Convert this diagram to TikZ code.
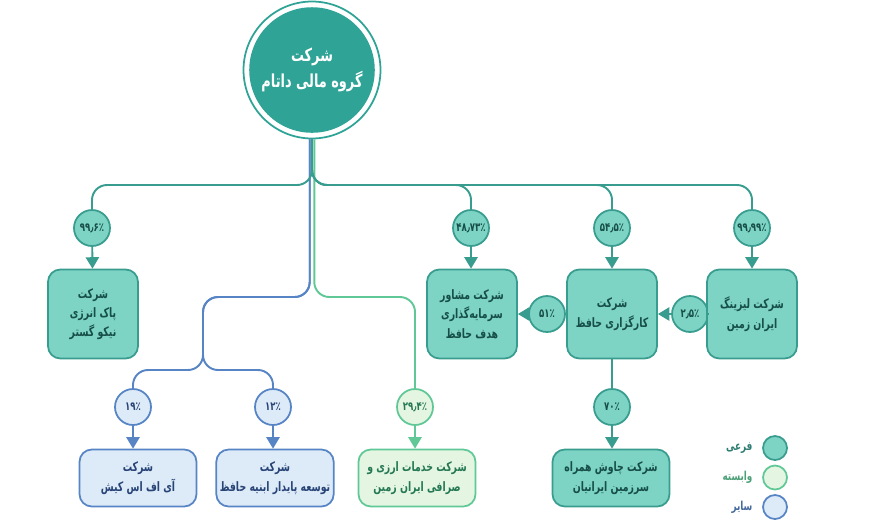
\documentclass[tikz,border=0pt]{standalone}
\usepackage{fontspec}
\newfontfamily\arabicfont[Script=Arabic,FakeStretch=0.72]{DejaVu Sans}
\TeXXeTstate=1
\usetikzlibrary{arrows.meta,positioning}
\definecolor{deepteal}{RGB}{47,163,150}
\definecolor{tealline}{RGB}{56,156,143}
\definecolor{tealfill}{RGB}{125,211,196}
\definecolor{tealtext}{RGB}{22,78,72}
\definecolor{blueline}{RGB}{86,132,196}
\definecolor{bluefill}{RGB}{221,234,248}
\definecolor{bluetext}{RGB}{40,68,118}
\definecolor{greenline}{RGB}{96,200,150}
\definecolor{greenfill}{RGB}{228,245,226}
\definecolor{greentext}{RGB}{36,120,84}
\newcommand{\rtl}[1]{\beginR #1\endR}
\tikzset{
  >={Triangle[width=7.5pt,length=6.5pt]},
  company/.style={draw=#1line,fill=#1fill,line width=1pt,rounded corners=7pt,
    align=center,text=#1text,inner sep=2pt,
    font=\arabicfont\bfseries\fontsize{7.4}{11}\selectfont},
  company/.default=teal,
  square box/.style={company=#1,minimum width=1.8cm,minimum height=1.78cm},
  square box/.default=teal,
  wide box/.style={company=#1,minimum width=2.34cm,minimum height=1.14cm},
  wide box/.default=teal,
  share/.style={circle,draw=#1line,fill=#1fill,line width=1pt,minimum size=0.72cm,
    inner sep=0pt,text=#1text,font=\arabicfont\bfseries\fontsize{6.8}{8}\selectfont},
  share/.default=teal,
  link/.style={draw=#1line,line width=1.1pt},
  link/.default=teal,
  branch/.style={link=#1,rounded corners=0.3cm},
  legend text/.style={text=#1line!80!black,anchor=east,
    font=\arabicfont\bfseries\fontsize{7}{8}\selectfont},
}

\begin{document}
\begin{tikzpicture}[x=0.02cm,y=-0.02cm]
  \useasboundingbox (0,0) rectangle (878,522);
  % holding company
  \node[circle,fill=deepteal,minimum size=2.5cm,text=white,align=center,
    font=\arabicfont\bfseries\fontsize{10.2}{15}\selectfont] (root) at (312,70)
    {\rtl{شرکت}\\\rtl{گروه مالی داتام}};
  \node[circle,draw=deepteal,line width=1pt,minimum size=2.74cm] (ring) at (root) {};

  % shares
  \node[share] (p996) at (92,228) {۹۹٫۶٪};
  \node[share] (p4873) at (471,228) {۴۸٫۷۳٪};
  \node[share] (p545) at (612,228) {۵۴٫۵٪};
  \node[share] (p9999) at (752,228) {۹۹٫۹۹٪};
  \node[share] (p51) at (547,314) {۵۱٪};
  \node[share] (p25) at (690,314) {۲٫۵٪};
  \node[share] (p70) at (612,407) {۷۰٪};
  \node[share=blue] (c19) at (133,407) {۱۹٪};
  \node[share=blue] (c12) at (273,407) {۱۲٪};
  \node[share=green] (c294) at (415,407) {۲۹٫۴٪};

  % companies
  \node[square box] (nikoo) at (93,314) {\rtl{شرکت}\\\rtl{پاک انرژی}\\\rtl{نیکو گستر}};
  \node[square box] (hadaf) at (472,314) {\rtl{شرکت مشاور}\\\rtl{سرمایه^^^^200cگذاری}\\\rtl{هدف حافظ}};
  \node[square box] (kargozari) at (612,314) {\rtl{شرکت}\\\rtl{کارگزاری حافظ}};
  \node[square box] (leasing) at (752,314) {\rtl{شرکت لیزینگ}\\\rtl{ایران زمین}};
  \node[wide box] (chavosh) at (611,478) {\rtl{شرکت چاوش همراه}\\\rtl{سرزمین ایرانیان}};
  \node[wide box=blue] (ifs) at (138,478) {\rtl{شرکت}\\\rtl{آی اف اس کیش}};
  \node[wide box=blue] (tosee) at (275,478) {\rtl{شرکت}\\\rtl{توسعه پایدار ابنیه حافظ}};
  \node[wide box=green] (sarafi) at (417,478) {\rtl{شرکت خدمات ارزی و}\\\rtl{صرافی ایران زمین}};

  % tree
  \coordinate (bstem) at ([xshift=-1.3pt]ring.south);
  \coordinate (gstem) at ([xshift=1.3pt]ring.south);
  \coordinate (tbar) at (312,185);
  \coordinate (bmid) at (203,297);
  \coordinate (bsplit) at (203,370);
  \coordinate (gturn) at (415,297);
  \draw[branch=blue] (bstem) |- (bmid) -- (bsplit) -| (c19);
  \draw[branch=blue] (bstem) |- (bmid) -- (bsplit) -| (c12);
  \draw[branch=green] (gstem) |- (gturn) -- (c294);
  \foreach \p in {p996,p4873,p545,p9999}
    \draw[branch] (ring.south) -- (ring.south |- tbar) -| (\p);

  \draw[link,->] (p996) -- (nikoo);
  \draw[link,->] (p4873) -- (p4873 |- hadaf.north);
  \draw[link,->] (p545) -- (kargozari);
  \draw[link,->] (p9999) -- (leasing);
  \draw[link] (kargozari) -- (p51);
  \draw[link,->] (p51) -- (hadaf);
  \draw[link] (leasing) -- (p25);
  \draw[link,->] (p25) -- (kargozari);
  \draw[link] (kargozari) -- (p70);
  \draw[link,->] (p70) -- (p70 |- chavosh.north);
  \draw[link=blue,->] (c19) -- (c19 |- ifs.north);
  \draw[link=blue,->] (c12) -- (c12 |- tosee.north);
  \draw[link=green,->] (c294) -- (c294 |- sarafi.north);

  % legend
  \foreach \t/\c [count=\i from 0] in {فرعی/teal,وابسته/green,سایر/blue}{
    \node[share=\c,minimum size=0.48cm] (leg\i) at (775,448+\i*29.5) {};
    \node[legend text=\c] (lab\i) at ([xshift=-2pt]leg\i.west) {\rtl{\t}};
  }
\end{tikzpicture}
\end{document}
